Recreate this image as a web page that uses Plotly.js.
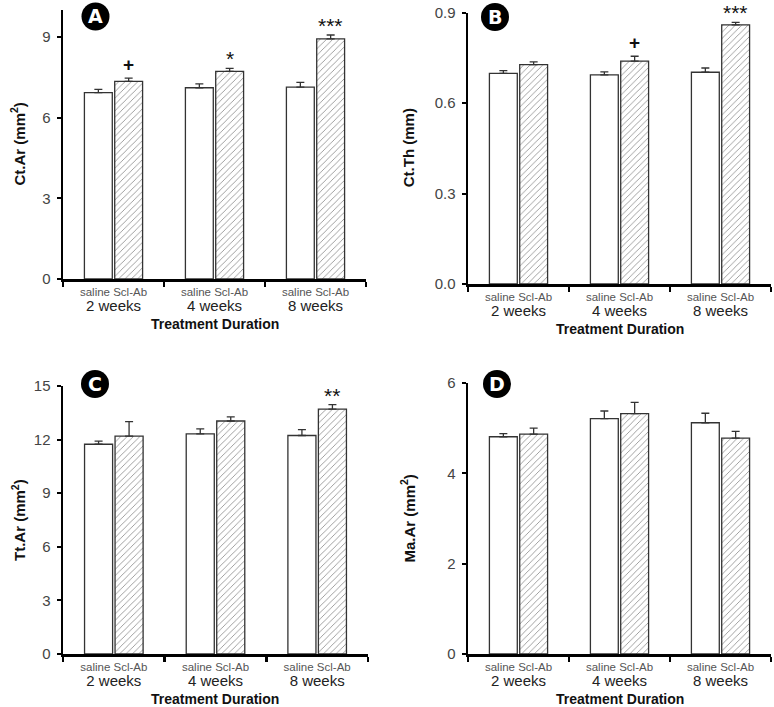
<!DOCTYPE html>
<html>
<head>
<meta charset="utf-8">
<script src="https://cdn.plot.ly/plotly-3.0.1.min.js"></script>
<style>html,body{margin:0;padding:0;background:#fff;}#chart{width:774px;height:707px;}</style>
</head>
<body>
<div id="chart"></div>
<script>
// ---- data ----
const weeks = ['2 weeks', '4 weeks', '8 weeks'];
const groupLabels = ['saline', 'Scl-Ab'];
const panelLetters = ['A', 'B', 'C', 'D'];
const yTitles = ['Ct.Ar (mm<sup>2</sup>)', 'Ct.Th (mm)', 'Tt.Ar (mm<sup>2</sup>)', 'Ma.Ar (mm<sup>2</sup>)'];
const xTitle = 'Treatment Duration';

const ctArSaline = [6.93, 7.11, 7.13];
const ctArSalineErr = [0.12, 0.14, 0.18];
const ctArSclAb = [7.35, 7.72, 8.93];
const ctArSclAbErr = [0.12, 0.11, 0.14];
const ctArSig = ['+', '*', '***'];

const ctThSaline = [0.698, 0.693, 0.702];
const ctThSalineErr = [0.009, 0.010, 0.014];
const ctThSclAb = [0.727, 0.739, 0.859];
const ctThSclAbErr = [0.009, 0.016, 0.008];
const ctThSig = ['', '+', '***'];

const ttArSaline = [11.74, 12.32, 12.23];
const ttArSalineErr = [0.17, 0.28, 0.33];
const ttArSclAb = [12.19, 13.04, 13.71];
const ttArSclAbErr = [0.82, 0.23, 0.25];
const ttArSig = ['', '', '**'];

const maArSaline = [4.81, 5.21, 5.12];
const maArSalineErr = [0.07, 0.17, 0.21];
const maArSclAb = [4.87, 5.32, 4.78];
const maArSclAbErr = [0.13, 0.25, 0.15];
const maArSig = ['', '', ''];

const yRanges = [[0, 10], [0, 0.9], [0, 15], [0, 6]];
const yDticks = [3, 0.3, 3, 2];
const yFormats = ['', '.1f', '', ''];

// ---- layout geometry (pixels) ----
const W = 774, H = 707;
const boxes = [
  {x0: 63, x1: 366, y0: 10, y1: 279, circ: [95.5, 16.5]},
  {x0: 468, x1: 771, y0: 12.5, y1: 284, circ: [495, 17]},
  {x0: 63, x1: 368, y0: 386, y1: 654, circ: [95, 384]},
  {x0: 468, x1: 771, y0: 383, y1: 654, circ: [497, 384]}
];

const panels = [
  {s: ctArSaline, se: ctArSalineErr, a: ctArSclAb, ae: ctArSclAbErr, sig: ctArSig},
  {s: ctThSaline, se: ctThSalineErr, a: ctThSclAb, ae: ctThSclAbErr, sig: ctThSig},
  {s: ttArSaline, se: ttArSalineErr, a: ttArSclAb, ae: ttArSclAbErr, sig: ttArSig},
  {s: maArSaline, se: maArSalineErr, a: maArSclAb, ae: maArSclAbErr, sig: maArSig}
];

const FONT = 'Liberation Sans, Arial, Helvetica, sans-serif';
const traces = [];
const layout = {
  width: W, height: H,
  margin: {l: 0, r: 0, t: 0, b: 0, pad: 0},
  paper_bgcolor: '#fff', plot_bgcolor: '#fff',
  showlegend: false,
  barmode: 'group', bargap: 0.4, bargroupgap: 0.08,
  font: {family: FONT, color: '#333'},
  annotations: [], shapes: []
};

const tickText = weeks.map(w =>
  '<span style="color:#555">' + groupLabels.join(' ') + '</span><br>' +
  '<span style="font-size:15px;color:#222">' + w + '</span>');

panels.forEach((p, i) => {
  const n = i === 0 ? '' : String(i + 1);
  const xa = 'x' + n, ya = 'y' + n;
  const b = boxes[i];
  const zeros = p.s.map(() => 0);
  traces.push({
    type: 'bar', name: groupLabels[0], x: weeks, y: p.s, xaxis: xa, yaxis: ya,
    marker: {color: '#fff', line: {color: '#333', width: 1.3}},
    error_y: {type: 'data', array: p.se, arrayminus: zeros, symmetric: false, color: '#333', thickness: 1.3, width: 4},
    hoverinfo: 'skip'
  });
  traces.push({
    type: 'bar', name: groupLabels[1], x: weeks, y: p.a, xaxis: xa, yaxis: ya,
    marker: {color: '#fff', line: {color: '#333', width: 1.3},
      pattern: {shape: '/', fgcolor: '#6a6a6a', bgcolor: '#fff', size: 4.5, solidity: 0.14, fillmode: 'replace'}},
    error_y: {type: 'data', array: p.ae, arrayminus: zeros, symmetric: false, color: '#333', thickness: 1.3, width: 4},
    hoverinfo: 'skip'
  });

  layout['xaxis' + n] = {
    domain: [b.x0 / W, b.x1 / W], anchor: ya,
    type: 'category', categoryorder: 'array', categoryarray: weeks,
    range: [-0.5, 2.5],
    tickmode: 'array', tickvals: weeks, ticktext: tickText,
    tickson: 'boundaries', ticks: 'outside', ticklen: 5, tickwidth: 2.5, tickcolor: '#000',
    tickfont: {size: 11.5, color: '#555', family: FONT},
    showline: true, linewidth: 3, linecolor: '#000',
    showgrid: false, zeroline: false, fixedrange: true
  };
  layout['yaxis' + n] = {
    domain: [1 - b.y1 / H, 1 - b.y0 / H], anchor: xa,
    range: yRanges[i], dtick: yDticks[i], tick0: 0, tickformat: yFormats[i],
    ticks: 'outside', ticklen: 4, tickwidth: 2, tickcolor: '#000',
    tickfont: {size: 15, color: '#444', family: FONT}, ticklabelstandoff: 3,
    showline: true, linewidth: 2.5, linecolor: '#000',
    showgrid: false, zeroline: false, fixedrange: true
  };

  // y title
  layout.annotations.push({
    xref: 'paper', yref: 'paper', x: (i % 2 === 0 ? 18 : 408) / W, y: 1 - ((b.y0 + b.y1) / 2) / H,
    text: '<b>' + yTitles[i] + '</b>', textangle: -90, showarrow: false,
    xanchor: 'center', yanchor: 'middle', font: {size: 15, color: '#111', family: FONT}
  });
  // x title
  layout.annotations.push({
    xref: 'paper', yref: 'paper', x: ((b.x0 + b.x1) / 2) / W, y: 1 - (b.y1 + 45) / H,
    text: '<b>' + xTitle + '</b>', showarrow: false,
    xanchor: 'center', yanchor: 'middle', font: {size: 14, color: '#111', family: FONT}
  });
  // significance marks above Scl-Ab bars
  p.sig.forEach((s, k) => {
    if (!s) return;
    const isStar = s.indexOf('*') >= 0;
    layout.annotations.push({
      xref: xa, yref: ya, x: weeks[k], y: p.a[k] + p.ae[k], xshift: 15,
      yshift: isStar ? -4 : 1,
      text: isStar ? s : '<b>' + s + '</b>', showarrow: false, xanchor: 'center', yanchor: 'bottom',
      font: {size: isStar ? 21 : 19, color: '#111', family: FONT}
    });
  });
  // panel letter circle
  layout.shapes.push({
    type: 'circle', xref: 'paper', yref: 'paper',
    xsizemode: 'pixel', ysizemode: 'pixel',
    xanchor: b.circ[0] / W, yanchor: 1 - b.circ[1] / H,
    x0: -14, x1: 14, y0: -14, y1: 14,
    fillcolor: '#000', line: {width: 0}
  });
  layout.annotations.push({
    xref: 'paper', yref: 'paper', x: b.circ[0] / W, y: 1 - b.circ[1] / H,
    text: '<b>' + panelLetters[i] + '</b>', showarrow: false,
    xanchor: 'center', yanchor: 'middle',
    font: {size: 19, color: '#fff', family: 'DejaVu Sans, ' + FONT}
  });
});

Plotly.newPlot('chart', traces, layout, {displayModeBar: false, staticPlot: true});
</script>
</body>
</html>
